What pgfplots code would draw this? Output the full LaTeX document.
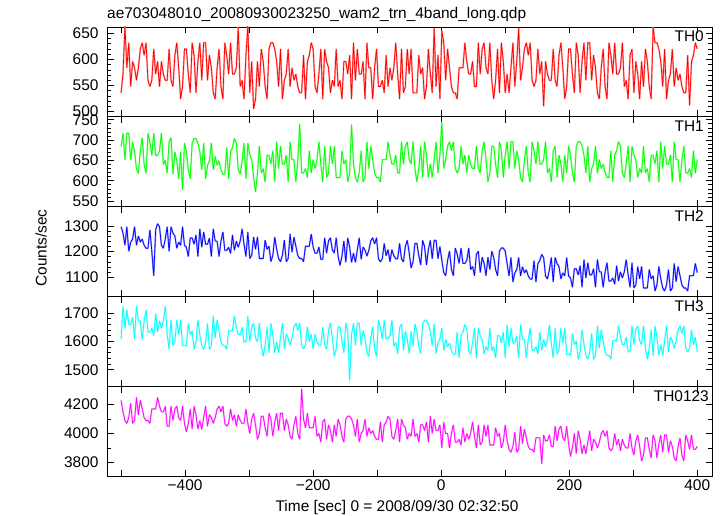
\documentclass[border=0pt]{standalone}
\usepackage{fontspec}
\setmainfont{Liberation Sans}
\usepackage{pgfplots}
\usepackage{pgfplotstable}
\pgfplotsset{compat=1.18}
\definecolor{cR}{RGB}{255,0,0}
\definecolor{cG}{RGB}{0,255,0}
\definecolor{cB}{RGB}{0,0,255}
\definecolor{cC}{RGB}{0,255,255}
\definecolor{cM}{RGB}{255,0,255}
\definecolor{eR}{RGB}{255,150,150}
\definecolor{eG}{RGB}{150,255,150}
\definecolor{eB}{RGB}{150,150,255}
\definecolor{eC}{RGB}{160,255,255}
\definecolor{eM}{RGB}{255,160,255}
\pgfplotstableread{
x th0 th1 th2 th3 th4
-500 536 684 1297 1607 4230
-497 572 717 1273 1724 4150
-494 665 651 1225 1646 4090
-491 584 717 1297 1711 4070
-488 632 717 1201 1659 4110
-485 548 651 1237 1659 4210
-482 596 695 1249 1685 4070
-479 584 673 1297 1607 4090
-476 560 629 1225 1724 4250
-473 584 618 1261 1672 4130
-470 620 673 1237 1672 4230
-467 632 706 1249 1607 4170
-464 608 640 1225 1672 4110
-461 632 618 1213 1711 4090
-458 560 717 1213 1633 4090
-455 548 695 1285 1633 4070
-452 560 662 1201 1646 4170
-449 620 717 1105 1620 4170
-446 572 662 1285 1698 4170
-443 596 662 1309 1633 4250
-440 548 673 1297 1672 4190
-437 596 717 1225 1646 4150
-434 572 640 1213 1672 4150
-431 560 651 1249 1724 4190
-428 560 618 1297 1624 4050
-425 620 695 1201 1572 4050
-422 560 706 1297 1676 4190
-419 548 616 1273 1585 4090
-416 608 671 1261 1598 4170
-413 632 649 1213 1676 4190
-410 584 605 1237 1624 4110
-407 524 671 1225 1676 4090
-404 548 578 1297 1585 4190
-401 620 693 1225 1585 4070
-398 620 671 1217 1585 4010
-395 572 627 1181 1663 4070
-392 536 605 1253 1624 4170
-389 632 693 1253 1637 4030
-386 608 704 1229 1572 4190
-383 536 704 1265 1598 4130
-380 596 693 1181 1676 4030
-377 632 671 1289 1624 4090
-374 560 627 1217 1585 4030
-371 632 693 1277 1572 4110
-368 632 605 1229 1598 4190
-365 560 638 1229 1663 4050
-362 608 649 1253 1572 4130
-359 584 693 1181 1585 4110
-356 536 627 1289 1689 4070
-353 524 660 1241 1611 4110
-350 584 638 1241 1676 4170
-347 620 649 1181 1637 4190
-344 548 627 1241 1598 4150
-341 524 616 1277 1585 4190
-338 632 616 1205 1585 4070
-335 608 682 1205 1572 4050
-332 572 605 1217 1637 4070
-329 632 671 1193 1637 4170
-326 572 682 1265 1637 4090
-323 572 704 1205 1689 4130
-320 584 693 1241 1650 4050
-317 662 627 1217 1624 4130
-314 548 616 1241 1624 4090
-311 560 649 1289 1650 4070
-308 524 693 1229 1598 4070
-305 608 605 1181 1598 4170
-302 665 693 1277 1689 4070
-299 536 663 1173 1599 4000
-296 596 652 1185 1651 4100
-293 505 608 1257 1664 4140
-290 524 572 1209 1612 4060
-287 596 619 1257 1599 3960
-284 548 685 1173 1664 4000
-281 620 619 1173 1586 4120
-278 596 630 1173 1547 4120
-275 548 597 1245 1586 4040
-272 524 663 1209 1651 3980
-269 620 663 1221 1560 4140
-266 632 641 1161 1664 4100
-263 632 674 1185 1625 3980
-260 620 597 1257 1560 4080
-257 596 696 1209 1599 4140
-254 548 630 1173 1560 4020
-251 620 685 1161 1612 4140
-248 524 641 1185 1664 4140
-245 560 641 1245 1573 4020
-242 572 663 1161 1625 4100
-239 620 597 1173 1612 4060
-236 548 696 1269 1586 3980
-233 584 652 1197 1612 3960
-230 560 652 1257 1651 4060
-227 572 597 1221 1664 4120
-224 548 652 1185 1638 4000
-221 536 740 1173 1664 3960
-218 536 619 1173 1586 4310
-215 608 619 1161 1573 4100
-212 524 630 1221 1586 4040
-209 596 608 1221 1651 4140
-206 608 674 1221 1599 4040
-203 632 619 1269 1625 4040
-200 620 652 1218 1573 4040
-197 548 630 1194 1625 4120
-194 536 652 1194 1599 3980
-191 572 696 1218 1586 4000
-188 620 641 1170 1586 3940
-185 524 597 1170 1651 4080
-182 620 685 1254 1586 4100
-179 596 608 1194 1573 3960
-176 584 619 1242 1638 4060
-173 536 685 1254 1664 4020
-170 560 641 1206 1612 3940
-167 548 685 1194 1547 4060
-164 620 608 1254 1573 3980
-161 548 608 1182 1651 4100
-158 560 608 1146 1651 4060
-155 524 674 1182 1599 3980
-152 596 641 1242 1560 3940
-149 596 652 1158 1664 4100
-146 572 597 1254 1638 4120
-143 608 619 1218 1462 4120
-140 524 738 1158 1625 4100
-137 632 641 1194 1664 4060
-134 560 608 1158 1586 3980
-131 620 597 1206 1664 4100
-128 572 619 1254 1664 3940
-125 572 674 1170 1586 4000
-122 596 597 1218 1638 4020
-119 524 608 1206 1612 4100
-116 632 696 1182 1560 3980
-113 584 630 1206 1547 4040
-110 584 685 1242 1612 4000
-107 524 652 1254 1651 4020
-104 584 619 1230 1573 3980
-101 620 608 1254 1547 3960
-98 548 608 1172 1674 3960
-95 548 597 1160 1648 4080
-92 560 652 1172 1609 3940
-89 536 652 1232 1674 4060
-86 608 652 1184 1609 4080
-83 548 696 1208 1609 4120
-80 584 663 1160 1622 4100
-77 560 641 1208 1674 3980
-74 584 641 1184 1583 3960
-71 632 663 1172 1596 4020
-68 572 619 1172 1557 4100
-65 524 619 1232 1648 3940
-62 620 696 1172 1661 4100
-59 536 641 1160 1570 4060
-56 548 685 1220 1635 4040
-53 620 696 1244 1609 3960
-50 572 652 1196 1557 4000
-47 620 641 1136 1635 3980
-44 536 696 1160 1583 4100
-41 536 630 1232 1661 3980
-38 536 597 1232 1635 4000
-35 608 630 1184 1583 3940
-32 572 685 1148 1557 4060
-29 584 608 1244 1661 4060
-26 524 696 1220 1674 4020
-23 548 663 1148 1674 4080
-20 620 608 1208 1661 3940
-17 572 641 1244 1635 4120
-14 536 608 1172 1583 4000
-11 660 652 1244 1661 4100
-8 548 696 1244 1557 4020
-5 608 619 1172 1596 4020
-2 524 663 1220 1609 4060
1 655 745 1166 1646 3900
4 632 630 1118 1568 4080
7 560 652 1106 1607 4000
10 620 685 1166 1581 4000
13 584 696 1202 1594 3900
16 548 674 1130 1568 4000
19 536 696 1106 1555 4060
22 536 630 1214 1555 3940
25 524 619 1190 1633 3940
28 584 630 1154 1542 3960
31 584 685 1214 1620 3920
34 584 641 1154 1633 4040
37 632 663 1154 1659 3940
40 596 619 1166 1646 4000
43 572 663 1214 1568 3960
46 572 641 1130 1555 4000
49 596 630 1142 1594 4080
52 548 630 1106 1646 3980
55 548 685 1190 1542 3900
58 632 630 1202 1646 4060
61 572 619 1118 1620 3920
64 620 674 1178 1607 3940
67 632 696 1154 1555 4060
70 584 652 1106 1581 3980
73 572 597 1178 1568 4060
76 632 619 1130 1646 3920
79 560 685 1202 1568 3920
82 524 685 1178 1581 3920
85 560 641 1130 1542 4040
88 620 608 1106 1620 3980
91 536 696 1202 1620 4000
94 632 674 1214 1594 3900
97 596 608 1214 1633 3940
100 536 663 1202 1542 4060
103 572 696 1153 1659 3950
106 536 630 1105 1581 3890
109 584 696 1177 1646 3870
112 632 696 1081 1594 3910
115 548 630 1117 1594 4010
118 596 674 1129 1620 3870
121 660 652 1177 1542 3890
124 560 608 1105 1659 4050
127 584 597 1141 1607 3930
130 620 652 1117 1607 4030
133 632 685 1129 1542 3970
136 608 619 1105 1607 3910
139 632 597 1093 1646 3890
142 560 696 1093 1568 3890
145 548 674 1165 1568 3870
148 560 641 1081 1581 3970
151 620 696 1153 1555 3970
154 572 641 1165 1633 3970
157 596 641 1189 1568 3790
160 510 652 1177 1607 3990
163 596 696 1105 1581 3950
166 572 619 1093 1607 3950
169 560 630 1129 1659 3990
172 560 597 1177 1594 3910
175 620 674 1081 1542 3910
178 560 685 1177 1646 4050
181 548 608 1153 1555 3950
184 608 663 1141 1568 4030
187 632 641 1093 1646 4050
190 584 597 1117 1594 3970
193 524 663 1105 1646 3950
196 548 619 1177 1555 4050
199 620 685 1105 1555 3930
202 620 663 1097 1550 3840
205 572 619 1061 1628 3900
208 536 597 1133 1589 4000
211 632 685 1133 1602 3860
214 608 696 1109 1537 4020
217 536 696 1145 1563 3960
220 596 685 1061 1641 3860
223 632 663 1169 1589 3920
226 560 619 1097 1550 3860
229 632 685 1157 1537 3940
232 632 597 1109 1563 4020
235 560 630 1109 1628 3880
238 608 641 1133 1537 3960
241 584 685 1061 1550 3940
244 536 619 1169 1654 3900
247 524 652 1121 1576 3940
250 584 630 1121 1641 4000
253 620 641 1061 1602 4020
256 548 619 1121 1563 3980
259 524 608 1157 1550 4020
262 632 608 1085 1550 3900
265 608 674 1085 1537 3880
268 572 597 1097 1602 3900
271 632 663 1073 1602 4000
274 572 674 1145 1602 3920
277 572 696 1085 1654 3960
280 584 685 1121 1615 3880
283 632 619 1097 1589 3960
286 548 608 1121 1589 3920
289 560 641 1169 1615 3900
292 524 685 1109 1563 3900
295 608 597 1061 1563 4000
298 620 685 1157 1654 3900
301 536 663 1058 1589 3850
304 596 652 1070 1641 3950
307 572 608 1142 1654 3990
310 524 630 1094 1602 3910
313 596 619 1142 1589 3810
316 548 685 1058 1654 3850
319 620 619 1058 1576 3970
322 596 630 1058 1537 3970
325 548 597 1130 1576 3890
328 524 663 1094 1641 3830
331 662 663 1106 1550 3990
334 632 641 1046 1654 3950
337 632 674 1070 1615 3830
340 620 597 1142 1550 3930
343 596 696 1094 1589 3990
346 548 630 1058 1550 3870
349 620 685 1046 1602 3990
352 524 641 1070 1654 3990
355 560 641 1130 1563 3870
358 572 663 1046 1615 3950
361 620 597 1058 1602 3910
364 548 696 1154 1576 3830
367 584 652 1082 1602 3810
370 560 652 1142 1641 3910
373 572 597 1106 1654 3970
376 548 652 1070 1628 3850
379 536 685 1058 1654 3810
382 536 619 1058 1576 3990
385 608 619 1046 1563 3950
388 512 630 1106 1576 3890
391 596 608 1106 1641 3990
394 608 674 1106 1589 3890
397 632 619 1154 1615 3890
400 620 652 1118 1563 3910
}\lc
\newcommand{\fnt}{\fontsize{15.5}{18}\selectfont}
\pgfplotsset{
  panel/.style={
    scale only axis, width=605bp, height=89.9bp,
    anchor=north west,
    xmin=-522, xmax=423,
    xtick={-500,-400,...,400}, xticklabels={},
    tick align=inside,
    major tick length=6.5bp, minor tick length=4bp,
    axis line style={line width=0.9bp, black},
    every tick/.style={black, line width=0.7bp},
    tick label style={font=\fnt},
    yticklabel style={xshift=-5bp},
    /pgf/number format/assume math mode=true,
  },
  halo/.style={color=#1, line width=1.6bp, mark=none, forget plot, line join=bevel},
  main/.style={color=#1, line width=0.7bp, mark=none, line join=bevel},
}
\begin{document}
\begin{tikzpicture}
\useasboundingbox (0,0) rectangle (723bp,516bp);
% TH0
\begin{axis}[panel, at={(107bp,489bp)}, ymin=490, ymax=662,
  ytick={500,550,600,650}, yticklabels={500,550,600,650}, minor y tick num=4]
\addplot[halo=eR] table[x=x,y=th0]{\lc};
\addplot[main=cR] table[x=x,y=th0]{\lc};
\node[anchor=north east, inner sep=0pt, font=\fnt] at (rel axis cs:1,1) [xshift=-8bp, yshift=-4bp] {TH0};
\end{axis}
% TH1
\begin{axis}[panel, at={(107bp,399.1bp)}, ymin=536, ymax=757,
  ytick={550,600,650,700,750}, yticklabels={550,600,650,700,750}, minor y tick num=4]
\addplot[halo=eG] table[x=x,y=th1]{\lc};
\addplot[main=cG] table[x=x,y=th1]{\lc};
\node[anchor=north east, inner sep=0pt, font=\fnt] at (rel axis cs:1,1) [xshift=-8bp, yshift=-4bp] {TH1};
\end{axis}
% TH2
\begin{axis}[panel, at={(107bp,309.2bp)}, ymin=1024, ymax=1375,
  ytick={1100,1200,1300}, yticklabels={1100,1200,1300}, minor y tick num=4]
\addplot[halo=eB] table[x=x,y=th2]{\lc};
\addplot[main=cB] table[x=x,y=th2]{\lc};
\node[anchor=north east, inner sep=0pt, font=\fnt] at (rel axis cs:1,1) [xshift=-8bp, yshift=-4bp] {TH2};
\end{axis}
% TH3
\begin{axis}[panel, at={(107bp,219.3bp)}, ymin=1441, ymax=1757,
  ytick={1500,1600,1700}, yticklabels={1500,1600,1700}, minor y tick num=4]
\addplot[halo=eC] table[x=x,y=th3]{\lc};
\addplot[main=cC] table[x=x,y=th3]{\lc};
\node[anchor=north east, inner sep=0pt, font=\fnt] at (rel axis cs:1,1) [xshift=-8bp, yshift=-4bp] {TH3};
\end{axis}
% TH0123
\begin{axis}[panel, at={(107bp,129.4bp)}, ymin=3702, ymax=4325,
  ytick={3800,4000,4200}, yticklabels={3800,4000,4200}, minor y tick num=1,
  xticklabels={,−400,,−200,,0,,200,,400}]
\addplot[halo=eM] table[x=x,y=th4]{\lc};
\addplot[main=cM] table[x=x,y=th4]{\lc};
\node[anchor=north east, inner sep=0pt, font=\fnt] at (rel axis cs:1,1) [xshift=-3bp, yshift=-4bp] {TH0123};
\end{axis}
\node[anchor=base west, inner sep=0pt, font=\fnt] at (107bp,497bp) {ae703048010\_20080930023250\_wam2\_trn\_4band\_long.qdp};
\node[anchor=base, inner sep=0pt, font=\fnt] at (397bp,5bp) {Time [sec] 0 = 2008/09/30 02:32:50};
\node[rotate=90, inner sep=0pt, font=\fnt] at (41bp,268bp) {Counts/sec};
\end{tikzpicture}
\end{document}
